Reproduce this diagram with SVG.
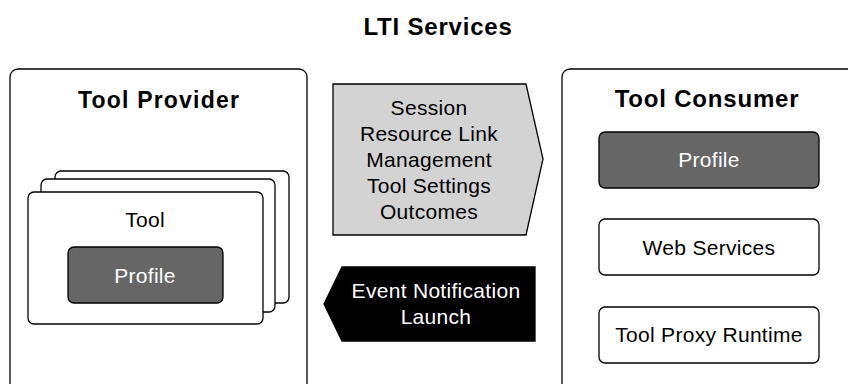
<svg xmlns="http://www.w3.org/2000/svg" width="848" height="384" viewBox="0 0 848 384">
<style>
text{font-family:"Liberation Sans",Arial,sans-serif;text-anchor:middle}
.box{fill:#fff;stroke:#000;stroke-width:1.3}
.dark{fill:#666;stroke:#000;stroke-width:1.3}
.h{font-weight:bold;font-size:24px;fill:#000;letter-spacing:0.8px}
.t{font-size:21px;fill:#000;letter-spacing:0.3px}
.w{font-size:21px;fill:#fff;letter-spacing:0.3px}
</style>
<rect width="848" height="384" fill="#fff"/>
<text x="438" y="35" class="h">LTI Services</text>
<g id="tool-provider">
<rect class="box" x="10" y="69" width="297" height="340" rx="8"/>
<text x="159" y="107.5" class="h" style="font-size:23px;letter-spacing:1.2px">Tool Provider</text>
</g>
<g id="tool-stack">
<rect class="box" x="55" y="171" width="234" height="132" rx="6"/>
<rect class="box" x="41" y="179" width="234" height="133" rx="6"/>
</g>
<g id="tool">
<rect class="box" x="28" y="192" width="235" height="132" rx="6"/>
<text x="145" y="227" class="t">Tool</text>
</g>
<g id="tool-profile">
<rect class="dark" x="68" y="247" width="155" height="56" rx="6"/>
<text x="145" y="283" class="w">Profile</text>
</g>
<g id="connectors">
<g id="services-arrow">
<path d="M333,84 H526 L543,159 L526,235 H333 Z" fill="#d3d3d3" stroke="#000" stroke-width="1.3"/>
<text x="429" y="115" class="t">Session</text>
<text x="429" y="140.5" class="t">Resource Link</text>
<text x="429" y="166.5" class="t">Management</text>
<text x="429" y="192.5" class="t">Tool Settings</text>
<text x="429" y="219" class="t">Outcomes</text>
</g>
<g id="launch-arrow">
<path d="M535,267 V341 H342 L324,304 L342,267 Z" fill="#000" stroke="#000" stroke-width="1.3"/>
<text x="436" y="297.5" class="w">Event Notification</text>
<text x="436" y="324" class="w">Launch</text>
</g>
</g>
<g id="tool-consumer">
<rect class="box" x="562" y="69" width="300" height="340" rx="8"/>
<text x="707" y="107" class="h">Tool Consumer</text>
</g>
<g id="tc-profile">
<rect class="dark" x="599" y="132" width="220" height="56" rx="6"/>
<text x="709" y="167" class="w">Profile</text>
</g>
<g id="web-services">
<rect class="box" x="599" y="219" width="220" height="56" rx="6"/>
<text x="709" y="255" class="t">Web Services</text>
</g>
<g id="tool-proxy-runtime">
<rect class="box" x="599" y="307" width="220" height="56" rx="6"/>
<text x="709" y="342" class="t">Tool Proxy Runtime</text>
</g>
</svg>
